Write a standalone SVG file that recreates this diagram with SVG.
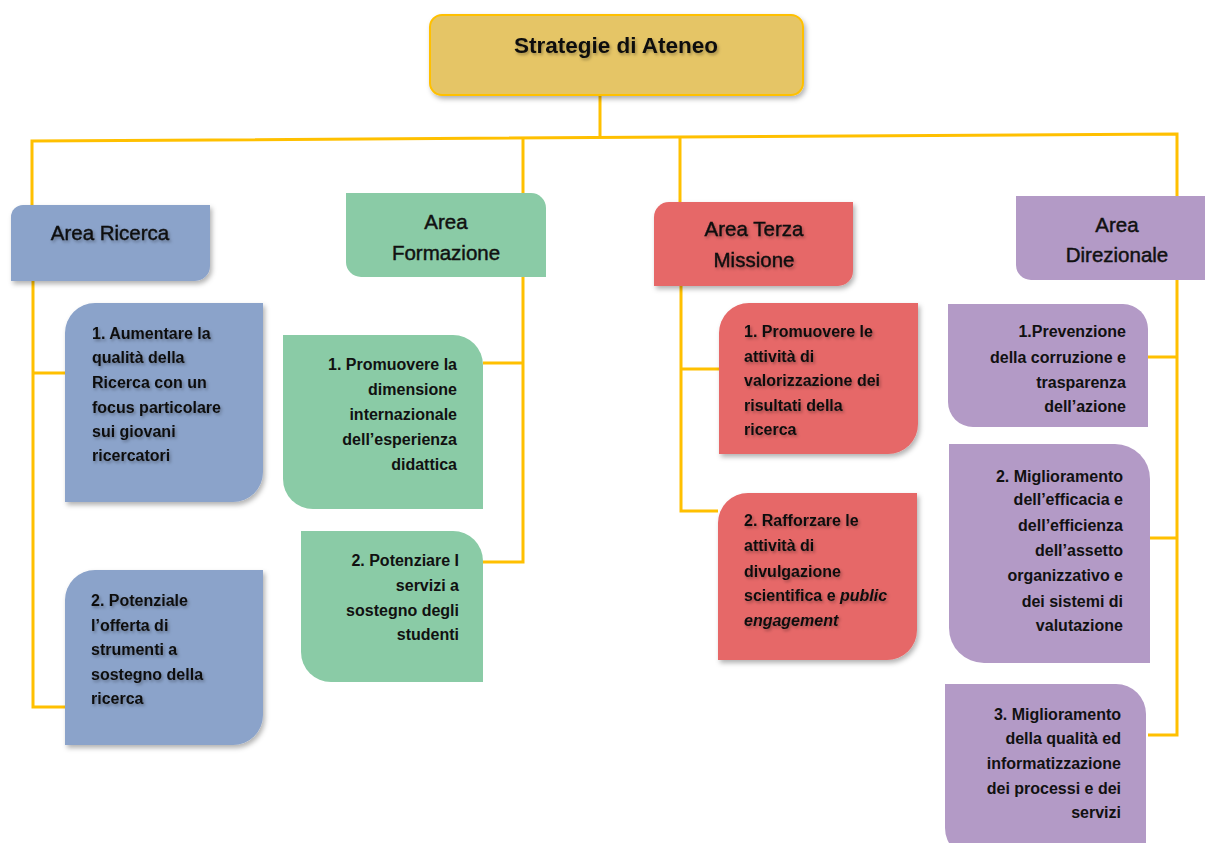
<svg xmlns="http://www.w3.org/2000/svg" width="1205" height="843" viewBox="0 0 1205 843">
<defs>
<filter id="sh" x="-10%" y="-10%" width="130%" height="130%">
<feDropShadow dx="2" dy="3" stdDeviation="2.5" flood-color="#000" flood-opacity="0.3"/>
</filter>
<filter id="tsh" x="-10%" y="-30%" width="130%" height="170%">
<feDropShadow dx="1.5" dy="2" stdDeviation="1.5" flood-color="#000" flood-opacity="0.3"/>
</filter>
<style>
text{font-family:"Liberation Sans",Arial,sans-serif;fill:#111;}
.t{font-size:16px;font-weight:bold;}
.h{font-size:20.5px;text-anchor:middle;stroke:#111;stroke-width:0.45px;}
.r{text-anchor:end;}
.blue{fill:#8BA3CA;}
.green{fill:#8ACBA6;}
.red{fill:#E66868;}
.purple{fill:#B39AC6;}
.ln{fill:none;stroke:#FFC000;stroke-width:3;}
</style>
</defs>
<rect width="1205" height="843" fill="#fff"/>

<g id="connectors">
<path class="ln" d="M600,95 V137.5"/>
<path class="ln" d="M32,205 V141 L1177,134 V196"/>
<path class="ln" d="M523,137.8 V193"/>
<path class="ln" d="M680,137 V203"/>
<path class="ln" d="M33,281 V707 H65 M33,373 H65"/>
<path class="ln" d="M523,277 V562 H483 M523,363 H483"/>
<path class="ln" d="M681,279 V511 H718 M681,369 H719"/>
<path class="ln" d="M1177,280 V735 H1148 M1177,357 H1148 M1177,538 H1150"/>
</g>

<g id="root">
<rect x="430" y="15" width="373" height="80" rx="12" fill="#E5C566" stroke="#FFC000" stroke-width="2" filter="url(#sh)"/>
<text x="616" y="53" font-size="22.5" font-weight="bold" text-anchor="middle" filter="url(#tsh)">Strategie di Ateneo</text>
</g>

<g id="area-ricerca">
<path class="blue" filter="url(#sh)" d="M11,217 A12,12 0 0 1 23,205 H210 V266 A15,15 0 0 1 195,281 H11 Z"/>
<text class="h" x="110" y="240" filter="url(#tsh)">Area Ricerca</text>
</g>
<g id="ricerca-1">
<path class="blue" filter="url(#sh)" d="M65,333 A30,30 0 0 1 95,303 H263 V472 A30,30 0 0 1 233,502 H65 Z"/>
<g filter="url(#tsh)">
<text class="t" x="92" y="339">1. Aumentare la</text>
<text class="t" x="92" y="363">qualità della</text>
<text class="t" x="92" y="388">Ricerca con un</text>
<text class="t" x="92" y="413">focus particolare</text>
<text class="t" x="92" y="437">sui giovani</text>
<text class="t" x="92" y="461">ricercatori</text>
</g>
</g>
<g id="ricerca-2">
<path class="blue" filter="url(#sh)" d="M65,600 A30,30 0 0 1 95,570 H263 V715 A30,30 0 0 1 233,745 H65 Z"/>
<g filter="url(#tsh)">
<text class="t" x="91" y="606">2. Potenziale</text>
<text class="t" x="91" y="631">l’offerta di</text>
<text class="t" x="91" y="655">strumenti a</text>
<text class="t" x="91" y="680">sostegno della</text>
<text class="t" x="91" y="704">ricerca</text>
</g>
</g>

<g id="area-formazione">
<path class="green" d="M346,193 H531 A15,15 0 0 1 546,208 V277 H361 A15,15 0 0 1 346,262 Z"/>
<text class="h" x="446" y="229">Area</text>
<text class="h" x="446" y="260">Formazione</text>
</g>
<g id="formazione-1">
<path class="green" d="M283,335 H453 A30,30 0 0 1 483,365 V509 H313 A30,30 0 0 1 283,479 Z"/>
<text class="t r" x="457" y="370">1. Promuovere la</text>
<text class="t r" x="457" y="395">dimensione</text>
<text class="t r" x="457" y="420">internazionale</text>
<text class="t r" x="457" y="445">dell’esperienza</text>
<text class="t r" x="457" y="470">didattica</text>
</g>
<g id="formazione-2">
<path class="green" d="M301,531 H453 A30,30 0 0 1 483,561 V682 H331 A30,30 0 0 1 301,652 Z"/>
<text class="t r" x="459" y="566">2. Potenziare I</text>
<text class="t r" x="459" y="591">servizi a</text>
<text class="t r" x="459" y="616">sostegno degli</text>
<text class="t r" x="459" y="640">studenti</text>
</g>

<g id="area-terza-missione">
<path class="red" filter="url(#sh)" d="M654,217 A15,15 0 0 1 669,202 H853 V271 A15,15 0 0 1 838,286 H654 Z"/>
<text class="h" x="754" y="236" filter="url(#tsh)">Area Terza</text>
<text class="h" x="754" y="267" filter="url(#tsh)">Missione</text>
</g>
<g id="terza-1">
<path class="red" filter="url(#sh)" d="M719,333 A30,30 0 0 1 749,303 H918 V424 A30,30 0 0 1 888,454 H719 Z"/>
<g filter="url(#tsh)">
<text class="t" x="744" y="337">1. Promuovere le</text>
<text class="t" x="744" y="362">attività di</text>
<text class="t" x="744" y="386">valorizzazione dei</text>
<text class="t" x="744" y="411">risultati della</text>
<text class="t" x="744" y="435">ricerca</text>
</g>
</g>
<g id="terza-2">
<path class="red" filter="url(#sh)" d="M718,523 A30,30 0 0 1 748,493 H917 V630 A30,30 0 0 1 887,660 H718 Z"/>
<g filter="url(#tsh)">
<text class="t" x="744" y="526">2. Rafforzare le</text>
<text class="t" x="744" y="551">attività di</text>
<text class="t" x="744" y="577">divulgazione</text>
<text class="t" x="744" y="601">scientifica e <tspan font-style="italic">public</tspan></text>
<text class="t" x="744" y="626" font-style="italic">engagement</text>
</g>
</g>

<g id="area-direzionale">
<path class="purple" d="M1016,196 H1210 V280 H1031 A15,15 0 0 1 1016,265 Z"/>
<text class="h" x="1117" y="232">Area</text>
<text class="h" x="1117" y="262">Direzionale</text>
</g>
<g id="direzionale-1">
<path class="purple" d="M948,304 H1123 A25,25 0 0 1 1148,329 V427 H973 A25,25 0 0 1 948,402 Z"/>
<text class="t r" x="1126" y="337">1.Prevenzione</text>
<text class="t r" x="1126" y="363">della corruzione e</text>
<text class="t r" x="1126" y="388">trasparenza</text>
<text class="t r" x="1126" y="412">dell’azione</text>
</g>
<g id="direzionale-2">
<path class="purple" d="M949,444 H1115 A35,35 0 0 1 1150,479 V663 H984 A35,35 0 0 1 949,628 Z"/>
<text class="t r" x="1123" y="482">2. Miglioramento</text>
<text class="t r" x="1123" y="505">dell’efficacia e</text>
<text class="t r" x="1123" y="531">dell’efficienza</text>
<text class="t r" x="1123" y="556">dell’assetto</text>
<text class="t r" x="1123" y="581">organizzativo e</text>
<text class="t r" x="1123" y="607">dei sistemi di</text>
<text class="t r" x="1123" y="631">valutazione</text>
</g>
<g id="direzionale-3">
<path class="purple" d="M945,684 H1116 A30,30 0 0 1 1146,714 V858 H975 A30,30 0 0 1 945,828 Z"/>
<text class="t r" x="1121" y="720">3. Miglioramento</text>
<text class="t r" x="1121" y="744">della qualità ed</text>
<text class="t r" x="1121" y="769">informatizzazione</text>
<text class="t r" x="1121" y="794">dei processi e dei</text>
<text class="t r" x="1121" y="818">servizi</text>
</g>
</svg>
